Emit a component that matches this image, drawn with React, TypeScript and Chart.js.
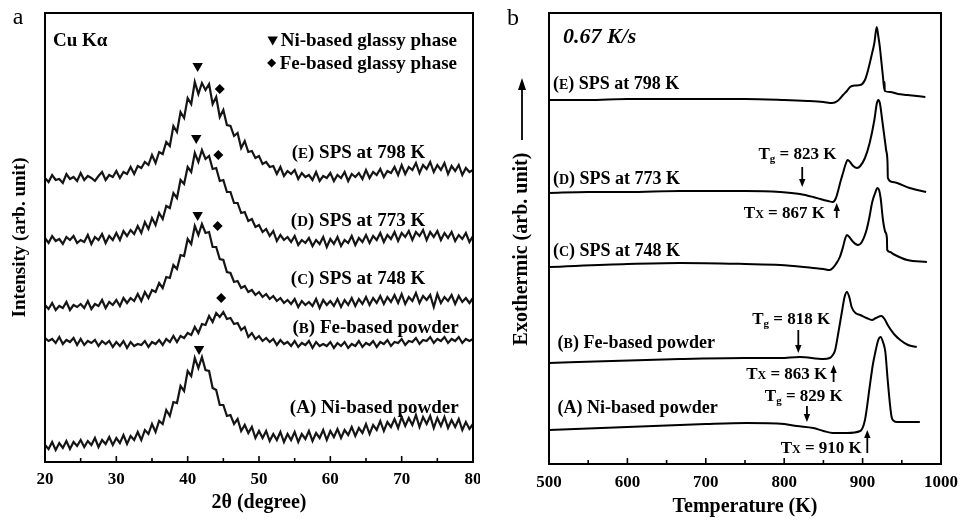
import React, { useEffect, useRef } from 'react';
import { Chart, registerables } from 'chart.js';

Chart.register(...registerables);

const SERIF = '"Liberation Serif", "Times New Roman", Times, serif';

// ---------------- Panel a: XRD patterns (2θ grid 20..80°, step 0.5°) ----------------
const XRD_E = [
  284, 280, 287, 282, 283, 279, 288, 283, 285, 281,
  289, 282, 286, 284, 281, 286, 290, 282, 287, 285,
  291, 284, 290, 288, 295, 288, 296, 294, 300, 297,
  307, 299, 310, 308, 320, 316, 336, 330, 350, 344,
  364, 358, 380, 368, 379, 372, 378, 358, 365, 345,
  352, 337, 336, 326, 329, 314, 321, 310, 311, 304,
  306, 298, 300, 295, 296, 288, 295, 286, 291, 288,
  292, 283, 289, 285, 287, 282, 290, 281, 286, 284,
  289, 281, 287, 284, 290, 281, 288, 285, 289, 283,
  292, 284, 290, 287, 293, 285, 291, 289, 295, 287,
  297, 288, 295, 292, 299, 289, 297, 293, 300, 290,
  297, 292, 299, 288, 296, 291, 297, 287, 294, 290,
  292,
];
const XRD_D = [
  224, 219, 226, 221, 223, 218, 225, 222, 226, 219,
  222, 220, 227, 218, 225, 222, 228, 219, 226, 222,
  229, 222, 231, 226, 232, 228, 236, 229, 240, 233,
  244, 237, 249, 243, 256, 254, 269, 264, 282, 278,
  295, 290, 309, 300, 312, 303, 306, 293, 294, 281,
  282, 270, 270, 259, 259, 249, 250, 241, 243, 235,
  237, 230, 233, 226, 231, 221, 227, 222, 225, 220,
  226, 217, 222, 219, 224, 216, 222, 218, 225, 215,
  223, 218, 225, 216, 222, 219, 226, 217, 224, 220,
  227, 219, 226, 222, 229, 220, 227, 223, 230, 221,
  229, 225, 231, 222, 230, 226, 232, 222, 230, 225,
  231, 222, 229, 224, 230, 221, 227, 223, 229, 220,
  226,
];
const XRD_C = [
  157, 153, 159, 152, 156, 154, 160, 152, 157, 155,
  158, 154, 161, 153, 158, 156, 162, 154, 160, 157,
  162, 156, 164, 159, 164, 161, 168, 161, 170, 164,
  172, 170, 179, 174, 185, 184, 197, 193, 207, 206,
  223, 218, 236, 227, 238, 229, 230, 215, 215, 203,
  202, 190, 189, 180, 181, 174, 176, 170, 172, 167,
  170, 165, 168, 163, 166, 161, 164, 159, 162, 158,
  163, 155, 161, 157, 160, 156, 163, 154, 162, 157,
  161, 156, 163, 155, 162, 157, 164, 156, 163, 158,
  165, 157, 164, 159, 166, 158, 165, 160, 167, 159,
  168, 158, 165, 161, 169, 159, 166, 162, 167, 155,
  168, 159, 165, 161, 167, 158, 166, 160, 164, 159,
  164,
];
const XRD_B = [
  124, 121, 123, 119, 125, 118, 122, 120, 124, 117,
  123, 117, 121, 119, 122, 116, 121, 118, 121, 115,
  120, 116, 121, 114, 120, 116, 118, 117, 121, 115,
  120, 118, 122, 117, 123, 120, 126, 120, 126, 124,
  129, 127, 135, 129, 138, 137, 146, 140, 149, 145,
  150, 143, 144, 138, 139, 132, 135, 125, 129, 123,
  126, 121, 124, 120, 123, 117, 122, 118, 120, 116,
  121, 115, 119, 117, 121, 114, 120, 116, 118, 116,
  120, 114, 119, 116, 120, 114, 118, 116, 121, 115,
  119, 117, 121, 115, 120, 118, 122, 116, 120, 119,
  123, 117, 121, 120, 124, 118, 122, 121, 125, 119,
  123, 121, 125, 119, 123, 121, 125, 119, 123, 121,
  123,
];
const XRD_A = [
  17, 13, 20, 12, 19, 14, 21, 13, 20, 16,
  22, 15, 21, 17, 24, 15, 22, 18, 25, 17,
  24, 19, 27, 18, 26, 22, 30, 22, 32, 28,
  38, 30, 41, 38, 52, 46, 60, 59, 76, 71,
  91, 86, 104, 94, 105, 92, 91, 74, 72, 57,
  57, 46, 47, 38, 43, 31, 37, 29, 35, 24,
  31, 24, 31, 21, 28, 22, 30, 20, 28, 22,
  30, 20, 28, 23, 31, 21, 29, 24, 32, 22,
  31, 25, 33, 24, 32, 27, 35, 26, 34, 29,
  38, 28, 37, 32, 41, 31, 40, 35, 43, 34,
  45, 36, 44, 37, 47, 35, 45, 38, 46, 34,
  44, 36, 45, 34, 42, 35, 43, 32, 40, 33,
  38,
];
const TWO_THETA = XRD_A.map((_, i) => 20 + 0.5 * i);
const XRD_SERIES = [XRD_E, XRD_D, XRD_C, XRD_B, XRD_A];

const NI_PEAK_MARKS = [
  { x: 41.4, y: 396 }, { x: 41.2, y: 324 }, { x: 41.4, y: 247 }, { x: 41.6, y: 113 },
];
const FE_PEAK_MARKS = [
  { x: 44.5, y: 373 }, { x: 44.3, y: 307 }, { x: 44.2, y: 236 }, { x: 44.7, y: 164 },
];
const XRD_LABELS = [
  { letter: 'E', text: 'SPS at 798 K', x: 73.3, y: 310 },
  { letter: 'D', text: 'SPS at 773 K', x: 73.3, y: 242 },
  { letter: 'C', text: 'SPS at 748 K', x: 73.3, y: 184 },
  { letter: 'B', text: 'Fe-based powder', x: 78, y: 135 },
  { letter: 'A', text: 'Ni-based powder', x: 78, y: 55 },
];

// ---------------- Panel b: DSC traces ----------------
const DSC_E_T = [500, 550, 600, 650, 700, 750, 800, 830, 850, 861, 868, 875, 880, 884, 890, 897, 903, 907, 911, 915, 918, 920, 922, 924, 926, 927.8, 928, 928.2, 935, 945, 957, 980];
const DSC_E = [364, 364, 365, 365, 365, 365, 364, 363, 362, 361, 363, 369, 373, 377, 378.5, 379, 384, 394, 407, 421, 437, 428, 417, 402, 387, 374, 382, 373, 372, 370, 369, 367];
const DSC_D_T = [500, 550, 600, 667, 750, 795, 820, 837, 846, 856, 862, 866, 869, 872, 875, 878, 881, 884, 888, 893, 897, 903, 909, 915, 918, 920, 922, 925, 928, 930, 931.8, 932.2, 938, 944, 960, 981];
const DSC_D = [271, 272, 272, 273, 273, 272, 270, 267, 265, 263, 262, 266, 274, 283, 291, 299, 304, 302, 298, 296, 298, 306, 321, 344, 360, 364, 361, 344, 326, 314, 301, 286, 282, 281, 276, 272];
const DSC_C_T = [500, 600, 667, 750, 795, 837, 850, 858, 862, 866, 871, 875, 878, 880, 883, 888, 894, 899, 905, 909, 912, 916, 919, 921, 923, 926, 929, 931, 931.4, 935, 939, 957, 982];
const DSC_C = [197, 200, 201, 200, 199, 196, 195, 194, 196, 200, 207, 217, 226, 229, 227, 222, 219, 222, 234, 248, 261, 271, 276, 274, 266, 244, 232, 226, 214, 212, 210, 204, 202];
const DSC_B_T = [500, 580, 667, 750, 795, 820, 850, 858, 862, 865, 869, 874, 877, 880, 883, 886, 891, 897, 905, 912, 917, 924, 928, 932, 940, 948, 958, 969];
const DSC_B = [101, 103, 105, 106, 106, 107, 105, 106, 109, 114, 131, 154, 167, 172, 167, 157, 151, 149, 146, 144, 146, 148, 145, 139, 130, 124, 119, 117];
const DSC_A_T = [500, 600, 700, 752, 800, 816, 837, 850, 862, 880, 897, 903, 909, 913, 916, 920, 923, 926, 929, 932, 935, 937, 940, 944, 973];
const DSC_A = [34, 37, 40, 41, 40, 38, 36, 33, 31, 31, 33, 44, 77, 99, 111, 124, 127, 122, 112, 84, 59, 47, 43, 42, 42];
const DSC_SERIES = [
  [DSC_E_T, DSC_E], [DSC_D_T, DSC_D], [DSC_C_T, DSC_C], [DSC_B_T, DSC_B], [DSC_A_T, DSC_A],
];
const DSC_LABELS = [
  { letter: 'E', text: 'SPS at 798 K', x: 505, y: 381 },
  { letter: 'D', text: 'SPS at 773 K', x: 505, y: 286 },
  { letter: 'C', text: 'SPS at 748 K', x: 505, y: 214 },
  { letter: 'B', text: 'Fe-based powder', x: 511, y: 122 },
  { letter: 'A', text: 'Ni-based powder', x: 511, y: 57 },
];
// kind g: glass transition (arrow down, text centred); kind x: crystallisation (arrow up, text right-aligned)
const TRANSITIONS = [
  { kind: 'g', temp: 823, value: '823 K', textX: 817, textY: 311, from: 297, to: 277 },
  { kind: 'x', temp: 867, value: '867 K', textX: 852, textY: 252, from: 246, to: 261 },
  { kind: 'g', temp: 818, value: '818 K', textX: 809, textY: 146, from: 134, to: 111 },
  { kind: 'x', temp: 863, value: '863 K', textX: 855, textY: 91, from: 82, to: 99 },
  { kind: 'g', temp: 829, value: '829 K', textX: 825, textY: 69, from: 58, to: 42 },
  { kind: 'x', temp: 906, value: '910 K', textX: 899, textY: 17, from: 11, to: 34 },
];

// ---------------- drawing helpers ----------------
type Part = { t: string; size: number; dy?: number };

function drawParts(ctx: CanvasRenderingContext2D, parts: Part[], x: number, y: number, align: string, style = 'bold') {
  const widths = parts.map((p) => {
    ctx.font = `${style} ${p.size}px ${SERIF}`;
    return ctx.measureText(p.t).width;
  });
  const total = widths.reduce((s, w) => s + w, 0);
  let cx = align === 'left' ? x : align === 'right' ? x - total : x - total / 2;
  const start = cx;
  ctx.textAlign = 'left';
  ctx.textBaseline = 'alphabetic';
  ctx.fillStyle = '#000';
  parts.forEach((p, i) => {
    ctx.font = `${style} ${p.size}px ${SERIF}`;
    ctx.fillText(p.t, cx, y + (p.dy || 0));
    cx += widths[i];
  });
  return { left: start, right: cx };
}

function labelParts(letter: string, text: string, size: number): Part[] {
  const small = letter === 'A' ? size : Math.round(size * 0.8);
  return [
    { t: '(', size },
    { t: letter, size: small },
    { t: ') ' + text, size },
  ];
}

function drawArrow(ctx: CanvasRenderingContext2D, x: number, y0: number, y1: number, head = 8, half = 3.2) {
  const dir = y1 > y0 ? 1 : -1;
  ctx.strokeStyle = '#000';
  ctx.lineWidth = 1.8;
  ctx.beginPath();
  ctx.moveTo(x, y0);
  ctx.lineTo(x, y1 - dir * head * 0.7);
  ctx.stroke();
  ctx.fillStyle = '#000';
  ctx.beginPath();
  ctx.moveTo(x, y1);
  ctx.lineTo(x - half, y1 - dir * head);
  ctx.lineTo(x + half, y1 - dir * head);
  ctx.closePath();
  ctx.fill();
}

function drawFrame(ctx: CanvasRenderingContext2D, a: any) {
  ctx.strokeStyle = '#000';
  ctx.lineWidth = 2;
  ctx.strokeRect(a.left, a.top, a.right - a.left, a.bottom - a.top);
}

function drawTicks(ctx: CanvasRenderingContext2D, xs: any, a: any, major: number) {
  ctx.strokeStyle = '#000';
  ctx.lineWidth = 1.6;
  xs.ticks.forEach((t: any) => {
    if (t.value <= xs.min || t.value >= xs.max) return;
    const px = xs.getPixelForValue(t.value);
    const len = t.value % major === 0 ? 6 : 4;
    ctx.beginPath();
    ctx.moveTo(px, a.bottom);
    ctx.lineTo(px, a.bottom - len);
    ctx.stroke();
  });
}

function fitX(height: number) {
  return (s: any) => {
    s.height = height;
    s.paddingLeft = 0;
    s.paddingRight = 0;
  };
}
function fitY(width: number) {
  return (s: any) => {
    s.width = width;
    s.paddingTop = 0;
    s.paddingBottom = 0;
  };
}

const xrdDecor = {
  id: 'xrdDecor',
  afterDraw(chart: any) {
    const { ctx, chartArea: a, scales } = chart;
    const xs = scales.x;
    const ys = scales.y;
    ctx.save();
    drawFrame(ctx, a);
    drawTicks(ctx, xs, a, 10);
    XRD_LABELS.forEach((l) => {
      drawParts(ctx, labelParts(l.letter, l.text, 19), xs.getPixelForValue(l.x), ys.getPixelForValue(l.y) + 6, 'right');
    });
    drawParts(ctx, [{ t: 'Cu K\u03b1', size: 19 }], a.left + 8, a.top + 33, 'left');
    // legend
    const r1 = drawParts(ctx, [{ t: 'Ni-based glassy phase', size: 19 }], a.right - 16, a.top + 33, 'right');
    const tx = r1.left - 8;
    const ty = a.top + 27;
    ctx.fillStyle = '#000';
    ctx.beginPath();
    ctx.moveTo(tx - 5.2, ty - 3.5);
    ctx.lineTo(tx + 5.2, ty - 3.5);
    ctx.lineTo(tx, ty + 5.5);
    ctx.closePath();
    ctx.fill();
    const r2 = drawParts(ctx, [{ t: 'Fe-based glassy phase', size: 19 }], a.right - 16, a.top + 56, 'right');
    const dx = r2.left - 8;
    const dy = a.top + 50;
    ctx.beginPath();
    ctx.moveTo(dx, dy - 4.5);
    ctx.lineTo(dx + 4.5, dy);
    ctx.lineTo(dx, dy + 4.5);
    ctx.lineTo(dx - 4.5, dy);
    ctx.closePath();
    ctx.fill();
    // panel letter
    ctx.font = `24px ${SERIF}`;
    ctx.textAlign = 'center';
    ctx.textBaseline = 'alphabetic';
    ctx.fillText('a', 18, 24);
    ctx.restore();
  },
};

const dscDecor = {
  id: 'dscDecor',
  afterDraw(chart: any) {
    const { ctx, chartArea: a, scales } = chart;
    const xs = scales.x;
    const ys = scales.y;
    ctx.save();
    drawFrame(ctx, a);
    drawTicks(ctx, xs, a, 100);
    DSC_LABELS.forEach((l) => {
      drawParts(ctx, labelParts(l.letter, l.text, 18), xs.getPixelForValue(l.x), ys.getPixelForValue(l.y) + 6, 'left');
    });
    TRANSITIONS.forEach((t) => {
      const parts: Part[] = t.kind === 'g'
        ? [{ t: 'T', size: 17 }, { t: 'g', size: 11, dy: 3 }, { t: ' = ' + t.value, size: 17 }]
        : [{ t: 'T', size: 17 }, { t: 'X', size: 12 }, { t: ' = ' + t.value, size: 17 }];
      drawParts(ctx, parts, xs.getPixelForValue(t.textX), ys.getPixelForValue(t.textY) + 6, t.kind === 'g' ? 'center' : 'right');
      drawArrow(ctx, xs.getPixelForValue(t.temp), ys.getPixelForValue(t.from), ys.getPixelForValue(t.to));
    });
    drawParts(ctx, [{ t: '0.67 K/s', size: 22 }], a.left + 14, a.top + 30, 'left', 'italic bold');
    // y axis title with arrow
    ctx.save();
    ctx.translate(a.left - 27, 249);
    ctx.rotate(-Math.PI / 2);
    ctx.font = `bold 20px ${SERIF}`;
    ctx.textAlign = 'center';
    ctx.textBaseline = 'middle';
    ctx.fillStyle = '#000';
    ctx.fillText('Exothermic (arb. unit)', 0, 0);
    ctx.restore();
    drawArrow(ctx, a.left - 27, 140, 78, 12, 4);
    // panel letter
    ctx.font = `24px ${SERIF}`;
    ctx.textAlign = 'center';
    ctx.textBaseline = 'alphabetic';
    ctx.fillStyle = '#000';
    ctx.fillText('b', 33, 25);
    ctx.restore();
  },
};

const tickFont = { family: SERIF, size: 17, weight: 'bold' as const };
const titleFont = { family: SERIF, size: 20, weight: 'bold' as const };

function xrdConfig(): any {
  return {
    type: 'line',
    data: {
      datasets: [
        ...XRD_SERIES.map((s) => ({
          data: s.map((v, i) => ({ x: TWO_THETA[i], y: v })),
          borderColor: '#151515',
          borderWidth: 2.2,
          pointRadius: 0,
          tension: 0,
          fill: false,
        })),
        {
          type: 'scatter',
          data: NI_PEAK_MARKS,
          pointStyle: 'triangle',
          rotation: 180,
          pointRadius: 6,
          backgroundColor: '#000',
          borderWidth: 0,
          showLine: false,
        },
        {
          type: 'scatter',
          data: FE_PEAK_MARKS,
          pointStyle: 'rectRot',
          pointRadius: 5,
          backgroundColor: '#000',
          borderWidth: 0,
          showLine: false,
        },
      ],
    },
    options: {
      animation: false,
      responsive: false,
      devicePixelRatio: 1,
      events: [],
      layout: { padding: { left: 0, top: 13, right: 7, bottom: 0 } },
      plugins: { legend: { display: false }, tooltip: { enabled: false } },
      scales: {
        x: {
          type: 'linear',
          min: 20,
          max: 80,
          ticks: {
            stepSize: 5,
            autoSkip: false,
            maxRotation: 0,
            padding: 7,
            color: '#000',
            font: tickFont,
            callback: (v: any) => (Number(v) % 10 === 0 ? String(v) : ''),
          },
          grid: { display: false, drawTicks: false },
          border: { display: false },
          title: { display: true, text: '2\u03b8 (degree)', color: '#000', font: titleFont, padding: { top: 0, bottom: 6 } },
          afterFit: fitX(59),
        },
        y: {
          type: 'linear',
          min: 0,
          max: 449,
          ticks: { display: false },
          grid: { display: false, drawTicks: false },
          border: { display: false },
          title: { display: true, text: 'Intensity (arb. unit)', color: '#000', font: { family: SERIF, size: 19, weight: 'bold' }, padding: { top: 9, bottom: 0 } },
          afterFit: fitY(45),
        },
      },
    },
    plugins: [xrdDecor],
  };
}

function dscConfig(): any {
  return {
    type: 'line',
    data: {
      datasets: DSC_SERIES.map(([ts, vs]) => ({
        data: ts.map((t, i) => ({ x: t, y: vs[i] })),
        borderColor: '#000',
        borderWidth: 2,
        pointRadius: 0,
        cubicInterpolationMode: 'monotone',
        fill: false,
      })),
    },
    options: {
      animation: false,
      responsive: false,
      devicePixelRatio: 1,
      events: [],
      layout: { padding: { left: 0, top: 13, right: 19, bottom: 0 } },
      plugins: { legend: { display: false }, tooltip: { enabled: false } },
      scales: {
        x: {
          type: 'linear',
          min: 500,
          max: 1000,
          ticks: {
            stepSize: 50,
            autoSkip: false,
            maxRotation: 0,
            padding: 8,
            color: '#000',
            font: tickFont,
            callback: (v: any) => (Number(v) % 100 === 0 ? String(v) : ''),
          },
          grid: { display: false, drawTicks: false },
          border: { display: false },
          title: { display: true, text: 'Temperature (K)', color: '#000', font: titleFont, padding: { top: 0, bottom: 2 } },
          afterFit: fitX(57),
        },
        y: {
          type: 'linear',
          min: 0,
          max: 451,
          ticks: { display: false },
          grid: { display: false, drawTicks: false },
          border: { display: false },
          afterFit: fitY(69),
        },
      },
    },
    plugins: [dscDecor],
  };
}

export default function App() {
  const leftRef = useRef<HTMLCanvasElement>(null);
  const rightRef = useRef<HTMLCanvasElement>(null);
  useEffect(() => {
    const charts: Chart[] = [];
    if (leftRef.current) charts.push(new Chart(leftRef.current, xrdConfig()));
    if (rightRef.current) charts.push(new Chart(rightRef.current, dscConfig()));
    return () => charts.forEach((c) => c.destroy());
  }, []);
  return (
    <div style={{ position: 'fixed', left: 0, top: 0, width: 960, height: 521, background: '#fff' }}>
      <canvas ref={leftRef} width={480} height={521} style={{ position: 'absolute', left: 0, top: 0, width: 480, height: 521 }} />
      <canvas ref={rightRef} width={480} height={521} style={{ position: 'absolute', left: 480, top: 0, width: 480, height: 521 }} />
    </div>
  );
}
